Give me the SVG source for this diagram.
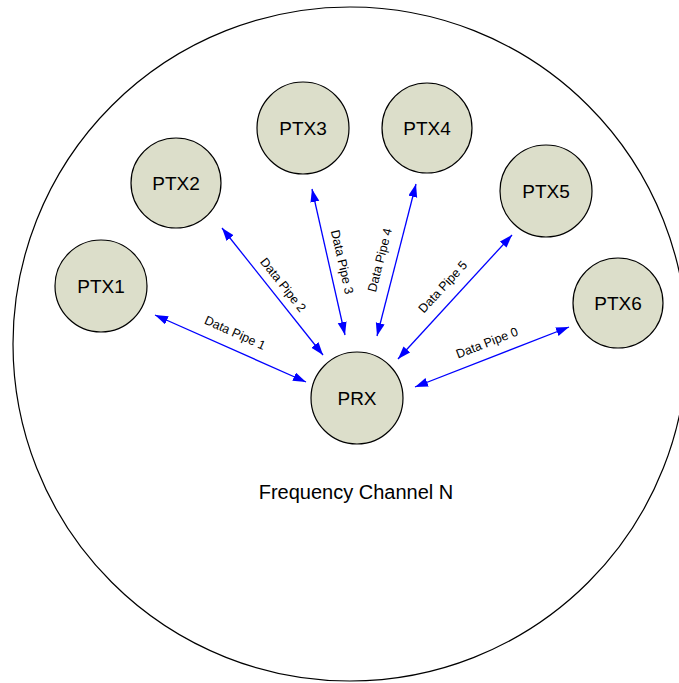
<svg xmlns="http://www.w3.org/2000/svg" width="679" height="683" viewBox="0 0 679 683">
<style>
.node{fill:#DCDECA;stroke:#000;stroke-width:1.2}
.nt{font-family:"Liberation Sans",Arial,sans-serif;font-size:19px;fill:#000;text-anchor:middle}
.ft{font-family:"Liberation Sans",Arial,sans-serif;font-size:20px;fill:#000;text-anchor:middle}
.lbl{font-family:"Liberation Sans",Arial,sans-serif;font-size:12.5px;fill:#000;text-anchor:middle}
.pipe{stroke:#0000FF;stroke-width:1.3;fill:none;marker-start:url(#ah);marker-end:url(#ah)}
</style>
<defs>
<marker id="ah" markerUnits="userSpaceOnUse" markerWidth="14" markerHeight="10" refX="13" refY="4.5" orient="auto-start-reverse" viewBox="0 0 14 10">
<path d="M0,0 L13,4.5 L0,9 z" fill="#0000FF"/>
</marker>
</defs>
<rect width="679" height="683" fill="#fff"/>
<g id="channel">
<circle cx="350" cy="344" r="337" fill="none" stroke="#000" stroke-width="1.2"/>
<text class="ft" x="356" y="499">Frequency Channel N</text>
</g>
<g id="connectors">
<line class="pipe" x1="155" y1="315" x2="306" y2="382"/>
<line class="pipe" x1="222" y1="228" x2="323" y2="355"/>
<line class="pipe" x1="312" y1="189" x2="345" y2="335"/>
<line class="pipe" x1="416" y1="184" x2="377" y2="336"/>
<line class="pipe" x1="512" y1="235" x2="398" y2="359"/>
<line class="pipe" x1="569" y1="327" x2="415" y2="387"/>
<text class="lbl" x="235" y="337" transform="rotate(24.2 235 333)">Data Pipe 1</text>
<text class="lbl" x="283" y="289" transform="rotate(51.6 283 285)">Data Pipe 2</text>
<text class="lbl" x="342" y="266" transform="rotate(77.2 342 262)">Data Pipe 3</text>
<text class="lbl" x="380" y="264" transform="rotate(-75.4 380 260)">Data Pipe 4</text>
<text class="lbl" x="443" y="291" transform="rotate(-47.4 443 287)">Data Pipe 5</text>
<text class="lbl" x="487" y="347" transform="rotate(-21.3 487 343)">Data Pipe 0</text>
</g>
<g id="PTX1"><circle class="node" cx="101" cy="286" r="46"/><text class="nt" x="101" y="293">PTX1</text></g>
<g id="PTX2"><circle class="node" cx="176" cy="183" r="45"/><text class="nt" x="176" y="190">PTX2</text></g>
<g id="PTX3"><circle class="node" cx="303" cy="128" r="46"/><text class="nt" x="303" y="135">PTX3</text></g>
<g id="PTX4"><circle class="node" cx="427" cy="128" r="45"/><text class="nt" x="427" y="135">PTX4</text></g>
<g id="PTX5"><circle class="node" cx="546" cy="191" r="46"/><text class="nt" x="546" y="198">PTX5</text></g>
<g id="PTX6"><circle class="node" cx="618" cy="303" r="45"/><text class="nt" x="618" y="310">PTX6</text></g>
<g id="PRX"><circle class="node" cx="357" cy="398" r="46"/><text class="nt" x="357" y="405">PRX</text></g>
</svg>
